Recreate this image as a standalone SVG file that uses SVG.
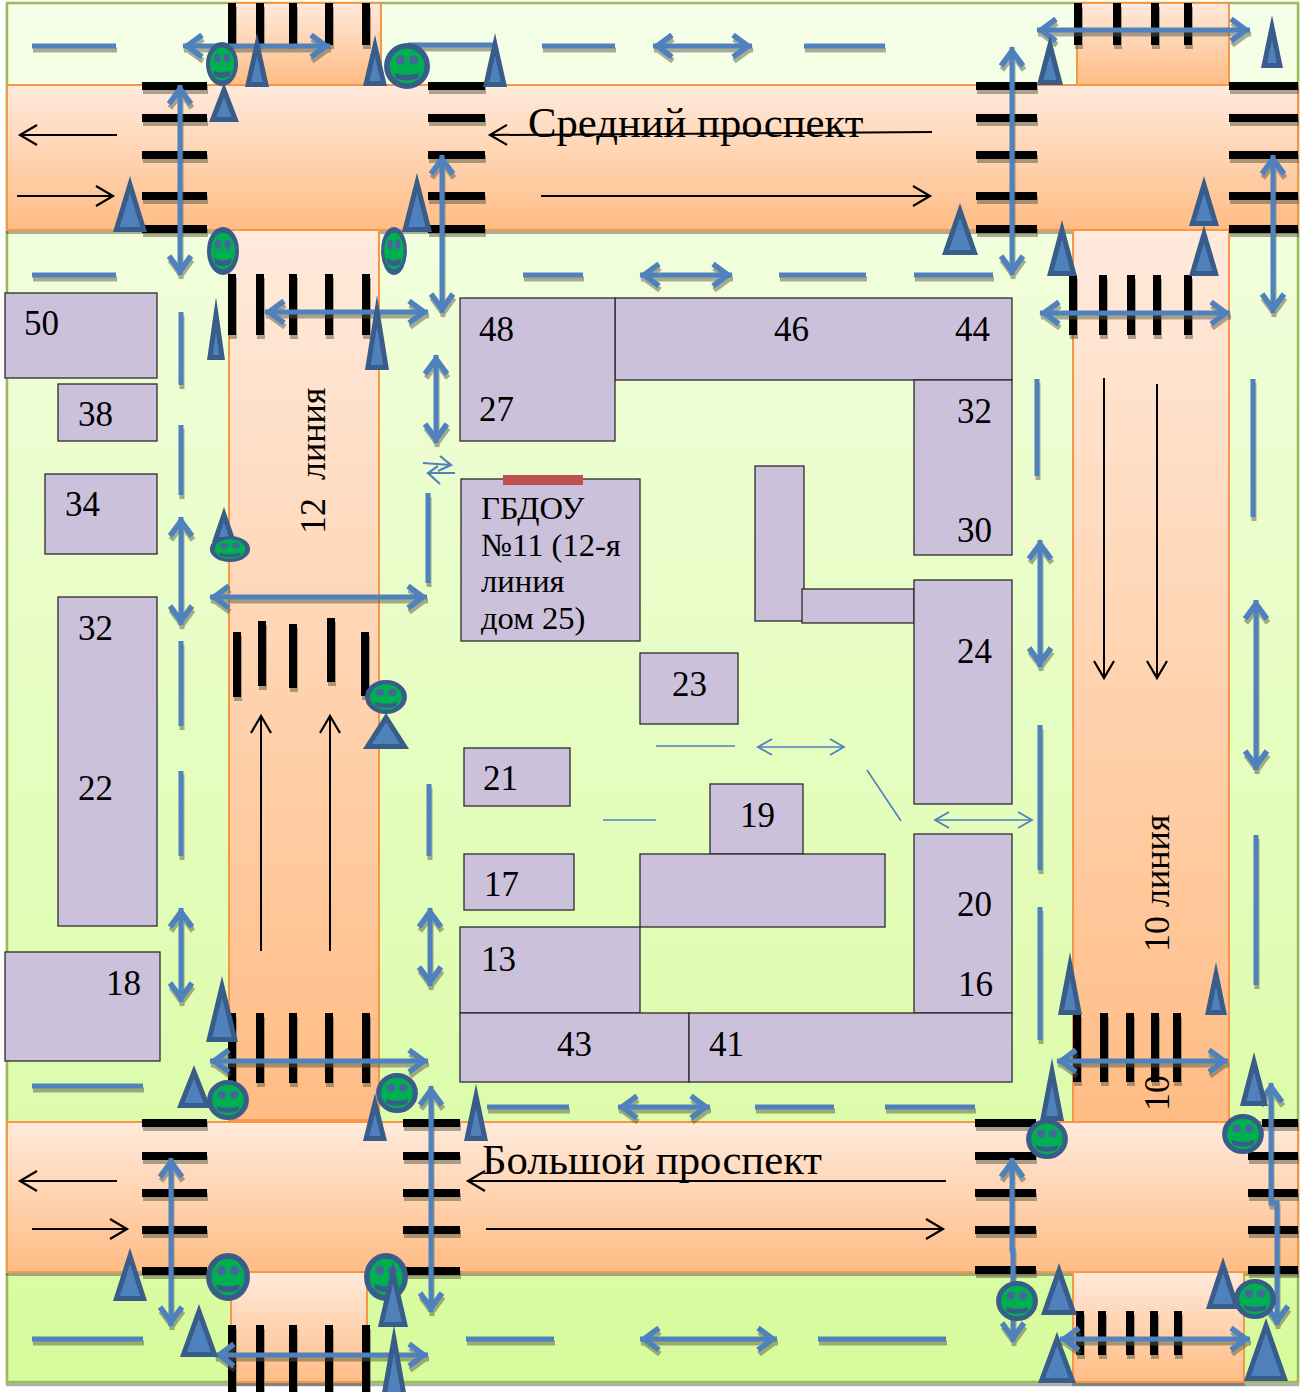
<svg xmlns="http://www.w3.org/2000/svg" width="1306" height="1392" viewBox="0 0 1306 1392">
<style>
.road{fill:url(#roadG);stroke:#f79646;stroke-width:2}
.bld{fill:#ccc1da;stroke:#2b2b2b;stroke-width:1.3}
.num{font-family:"Liberation Serif",serif;font-size:35px;fill:#000}
.ttl{font-family:"Liberation Serif",serif;font-size:42.7px;fill:#000}
.gb{font-family:"Liberation Serif",serif;font-size:32.6px;fill:#000}
.rot{font-family:"Liberation Serif",serif;font-size:36px;fill:#000}
.stripe{stroke:#000;stroke-width:8;fill:none}
.dbl{stroke:#4f81bd;stroke-width:5;fill:none;marker-start:url(#chev);marker-end:url(#chev)}
.dash{stroke:#4f81bd;stroke-width:5;fill:none}
.tn{stroke:#4f81bd;stroke-width:1.6;fill:none}
.tx{stroke:#4f81bd;stroke-width:2.2;fill:none}
.tnd{stroke:#4f81bd;stroke-width:1.6;fill:none;marker-start:url(#chevT);marker-end:url(#chevT)}
.blk{stroke:#000;stroke-width:2;fill:none;marker-end:url(#open)}
.tri polygon{fill:#4f81bd;stroke:#385d8a;stroke-width:5;stroke-miterlimit:20}
</style>
<defs>
<linearGradient id="bgG" x1="0" y1="0" x2="0" y2="1"><stop offset="0" stop-color="#f6ffe9"/><stop offset="1" stop-color="#d7fb9c"/></linearGradient>
<linearGradient id="roadG" x1="0" y1="0" x2="0" y2="1"><stop offset="0" stop-color="#ffeadc"/><stop offset="1" stop-color="#ffbc84"/></linearGradient>
<filter id="sh" x="-10%" y="-10%" width="120%" height="120%"><feDropShadow dx="1" dy="4" stdDeviation="0.6" flood-color="#5a5a3c" flood-opacity="0.5"/></filter>
<filter id="shr" x="-5%" y="-5%" width="110%" height="110%"><feDropShadow dx="0" dy="3" stdDeviation="0.5" flood-color="#4a4a4a" flood-opacity="0.45"/></filter>
<marker id="chev" markerUnits="userSpaceOnUse" markerWidth="34" markerHeight="34" refX="27" refY="17" orient="auto-start-reverse"><path d="M8 6 L23 17 L8 28" fill="none" stroke="#4f81bd" stroke-width="5.5"/></marker>
<marker id="chevT" markerUnits="userSpaceOnUse" markerWidth="24" markerHeight="24" refX="20" refY="12" orient="auto-start-reverse"><path d="M6 4 L20 12 L6 20" fill="none" stroke="#4f81bd" stroke-width="1.8"/></marker>
<marker id="open" markerUnits="userSpaceOnUse" markerWidth="30" markerHeight="30" refX="24" refY="15" orient="auto"><path d="M7 5 L24 15 L7 25" fill="none" stroke="#000" stroke-width="2.2"/></marker>
<g id="smile"><circle r="18" fill="#00b050" stroke="#385d8a" stroke-width="5"/><circle cx="-6" cy="-5.500" r="4.200" fill="#44689c"/><circle cx="6" cy="-5.500" r="4.200" fill="#44689c"/><path d="M-11 6 Q0 10 11 6 L10 11 Q0 15 -10 11Z" fill="#385d8a"/></g>
</defs>

<rect id="ground" x="7" y="3" width="1291" height="1379" fill="url(#bgG)" stroke="#9bbb59" stroke-width="2.500" filter="url(#shr)"/>

<g id="roads" filter="url(#shr)">
<rect class="road" x="230" y="3" width="151" height="82"/>
<rect class="road" x="1077" y="3" width="152" height="82"/>
<rect class="road" x="229" y="230" width="150" height="890"/>
<rect class="road" x="1073" y="228" width="156" height="897"/>
<rect class="road" x="231" y="1272" width="136" height="110"/>
<rect class="road" x="1073" y="1270" width="171" height="112"/>
<rect class="road" x="7" y="85" width="1291" height="145"/>
<rect class="road" x="7" y="1122" width="1291" height="150"/>
</g>

<g id="crossings" class="stripe" filter="url(#sh)">
<path d="M142 86H207M142 118H207M142 155H207M142 196H207M142 229H207"/>
<path d="M428 86H485M428 118H485M428 155H485M428 196H485M428 229H485"/>
<path d="M976 86H1037M976 118H1037M976 155H1037M976 196H1037M976 229H1037"/>
<path d="M1229 86H1298M1229 118H1298M1229 155H1298M1229 196H1298M1229 229H1298"/>
<path d="M142 1123H207M142 1156H207M142 1193H207M142 1230H207M142 1271H207"/>
<path d="M403 1123H460M403 1156H460M403 1193H460M403 1230H460M403 1271H460"/>
<path d="M975 1123H1036M975 1156H1036M975 1193H1036M975 1230H1036M975 1270H1036"/>
<path d="M1262 1123H1298M1248 1156H1298M1248 1193H1298M1248 1230H1298M1248 1270H1298"/>
<path d="M232 3V45M260 3V45M293 3V45M329 3V45M366 3V45"/>
<path d="M232 274V335M260 274V335M293 274V335M329 274V335M366 274V335"/>
<path d="M237 632V697M262 621V686M293 624V688M331 618V682M365 632V696"/>
<path d="M232 1013V1083M260 1013V1083M293 1013V1083M329 1013V1083M366 1013V1083"/>
<path d="M232 1325V1392M260 1325V1392M293 1325V1392M329 1325V1392M366 1325V1392"/>
<path d="M1078 3V45M1117 3V45M1155 3V45M1188 3V45"/>
<path d="M1073 275V335M1103 275V335M1131 275V335M1157 275V335M1188 275V335"/>
<path d="M1077 1013V1082M1104 1013V1082M1130 1013V1082M1155 1013V1082M1177 1013V1082"/>
<path d="M1080 1311V1355M1102 1311V1355M1130 1311V1355M1154 1311V1355M1178 1311V1355"/>
</g>

<g id="bld-50"><rect class="bld" x="5" y="293" width="152" height="85"/><text class="num" x="24" y="335">50</text></g>
<g id="bld-38"><rect class="bld" x="58" y="384" width="99" height="57"/><text class="num" x="78" y="426">38</text></g>
<g id="bld-34"><rect class="bld" x="45" y="474" width="112" height="80"/><text class="num" x="65" y="516">34</text></g>
<g id="bld-32-22"><rect class="bld" x="58" y="597" width="99" height="329"/><text class="num" x="78" y="640">32</text><text class="num" x="78" y="800">22</text></g>
<g id="bld-18"><rect class="bld" x="5" y="952" width="155" height="109"/><text class="num" x="106" y="995">18</text></g>
<g id="bld-46-44"><rect class="bld" x="615" y="298" width="397" height="82"/><text class="num" x="774" y="341">46</text><text class="num" x="955" y="341">44</text></g>
<g id="bld-48-27"><rect class="bld" x="460" y="298" width="155" height="143"/><text class="num" x="479" y="341">48</text><text class="num" x="479" y="421">27</text></g>
<g id="bld-32-30"><rect class="bld" x="914" y="380" width="98" height="175"/><text class="num" x="957" y="423">32</text><text class="num" x="957" y="542">30</text></g>
<g id="bld-gbdou"><rect class="bld" x="461" y="479" width="179" height="162"/><rect x="503" y="475" width="80" height="10" fill="#c0504d"/><text class="gb" x="481" y="519">ГБДОУ</text><text class="gb" x="481" y="556">№11 (12-я</text><text class="gb" x="481" y="592">линия</text><text class="gb" x="481" y="629">дом 25)</text></g>
<g id="bld-wing"><rect class="bld" x="755" y="466" width="49" height="155"/><rect class="bld" x="802" y="589" width="112" height="34"/></g>
<g id="bld-24"><rect class="bld" x="914" y="580" width="98" height="224"/><text class="num" x="957" y="663">24</text></g>
<g id="bld-23"><rect class="bld" x="640" y="653" width="98" height="71"/><text class="num" x="672" y="696">23</text></g>
<g id="bld-21"><rect class="bld" x="464" y="748" width="106" height="58"/><text class="num" x="483" y="790">21</text></g>
<g id="bld-19"><rect class="bld" x="710" y="784" width="93" height="70"/><text class="num" x="740" y="827">19</text></g>
<g id="bld-block"><rect class="bld" x="640" y="854" width="245" height="73"/></g>
<g id="bld-17"><rect class="bld" x="464" y="854" width="110" height="56"/><text class="num" x="484" y="896">17</text></g>
<g id="bld-13"><rect class="bld" x="460" y="927" width="180" height="86"/><text class="num" x="481" y="971">13</text></g>
<g id="bld-20-16"><rect class="bld" x="914" y="834" width="98" height="179"/><text class="num" x="957" y="916">20</text><text class="num" x="958" y="996">16</text></g>
<g id="bld-43"><rect class="bld" x="460" y="1013" width="229" height="69"/><text class="num" x="557" y="1056">43</text></g>
<g id="bld-41"><rect class="bld" x="689" y="1013" width="323" height="69"/><text class="num" x="709" y="1056">41</text></g>

<g id="labels">
<text class="ttl" x="528" y="137">Средний проспект</text>
<text class="ttl" x="482" y="1174">Большой проспект</text>
<text class="rot" transform="translate(325 534) rotate(-90)" xml:space="preserve">12  линия</text>
<text class="rot" transform="translate(1169 952) rotate(-90)">10 линия</text>
<text class="rot" transform="translate(1169 1111) rotate(-90)">10</text>
</g>

<g id="connectors">
<g id="traffic">
<path class="blk" d="M117 135H20"/><path class="blk" d="M17 196H113"/><path class="blk" d="M932 132L490 135"/><path class="blk" d="M541 196H930"/>
<path class="blk" d="M1104 378V678"/><path class="blk" d="M1157 384V678"/><path class="blk" d="M261 951V716"/><path class="blk" d="M330 951V716"/>
<path class="blk" d="M117 1181H20"/><path class="blk" d="M32 1229H127"/><path class="blk" d="M946 1181H468"/><path class="blk" d="M486 1229H943"/>
</g>
<g id="paths-dash" class="dash" filter="url(#sh)">
<path d="M32 46H116M408 45H495M542 46H615M804 46H885M32 275H116M523 275H583M779 275H866M914 275H993M32 1086H143M487 1107H569M755 1107H834M885 1107H975M32 1339H143M466 1339H554M818 1339H946"/>
<path d="M181 312V385M181 425V495M181 641V726M181 771V856M428 493V583M429 784V856M1037 379V476M1040 725V870M1040 907V1040M1253 379V517M1256 835V985"/>
</g>
<g id="paths-double" filter="url(#sh)">
<path class="dbl" d="M183 46H330"/><path class="dbl" d="M180 85V275"/><path class="dbl" d="M442 155V313"/><path class="dbl" d="M265 312H428"/>
<path class="dbl" d="M653 46H752"/><path class="dbl" d="M640 275H732"/><path class="dbl" d="M1037 30H1250"/><path class="dbl" d="M1012 47V275"/>
<path class="dbl" d="M1040 313H1230"/><path class="dbl" d="M1273 155V313"/><path class="dbl" d="M436 355V443"/><path class="dbl" d="M181 517V625"/>
<path class="dbl" d="M210 597H427"/><path class="dbl" d="M1040 540V667"/><path class="dbl" d="M1256 600V770"/><path class="dbl" d="M181 908V1002"/>
<path class="dbl" d="M430 908V986"/><path class="dbl" d="M210 1061H428"/><path class="dbl" d="M431 1086V1312"/><path class="dbl" d="M618 1107H710"/>
<path class="dbl" d="M1057 1061H1228"/><path class="dbl" d="M171 1158V1326"/><path class="dbl" d="M215 1355H428"/><path class="dbl" d="M640 1339H777"/>
<path class="dbl" d="M1060 1339H1250"/><path class="dbl" d="M1012 1158V1250H1013V1342"/><path class="dbl" d="M1271 1083V1203H1277V1325"/>
</g>
<g id="paths-thin">
<path class="tnd" d="M758 747H844"/><path class="tnd" d="M935 820H1032"/>
<path class="tn" d="M656 746H735M603 820H656M867 770L901 821"/>
<path class="tx" d="M423 463L451 465M440 456L451 465L438 471M455 473H428M438 466L428 473L440 484"/>
</g>
</g>

<g id="signs-under" class="tri">
<polygon points="257,44.5 265.900,84.5 248.100,84.5"/>
<polygon points="375,46 383.800,83.5 366.200,83.5"/>
<polygon points="495,44.5 503.900,84.500 486.100,84.500"/>
<polygon points="224,90 235.300,119.500 212.700,119.500"/>
<polygon points="417,183 428.800,229.500 405.200,229.500"/>
<polygon points="130,184.600 143.600,229.500 116.400,229.500"/>
<polygon points="216,314.700 222.100,357.500 209.900,357.500"/>
<polygon points="377,310.800 386.100,367.500 367.900,367.500"/>
<polygon points="1050,45 1059.800,82.500 1040.200,82.500"/>
<polygon points="1272,27.300 1279.900,65.500 1264.100,65.500"/>
<polygon points="960,210.600 974.500,252.500 945.500,252.500"/>
<polygon points="1062,229.700 1073.700,273.500 1050.300,273.500"/>
<polygon points="1204,184.700 1215.600,223.500 1192.400,223.500"/>
<polygon points="1204,233.900 1215.600,273.500 1192.400,273.500"/>
<polygon points="224,514.700 232.500,539.500 215.500,539.500"/>
<polygon points="386,717.600 404.500,746.500 367.500,746.500"/>
<polygon points="222,986.600 234.800,1039.500 209.200,1039.500"/>
<polygon points="194,1071.800 207.300,1105.500 180.700,1105.500"/>
<polygon points="476,1096 484.900,1138.500 467.100,1138.500"/>
<polygon points="199,1311.400 214.500,1354.500 183.500,1354.500"/>
<polygon points="130,1256 143.600,1298.500 116.400,1298.500"/>
<polygon points="1052,1071.400 1061,1118.500 1043,1118.500"/>
<polygon points="1254,1062 1264.800,1103.500 1243.200,1103.500"/>
<polygon points="1059,1270.600 1073.500,1312.500 1044.500,1312.500"/>
<polygon points="1223,1265 1236.600,1306.500 1209.400,1306.500"/>
<polygon points="1057,1339 1072.400,1380.500 1041.600,1380.500"/>
<polygon points="1266,1325.600 1284.500,1378.500 1247.500,1378.500"/>
<polygon points="1070,965.400 1079,1012.500 1061,1012.500"/>
<polygon points="1216,974.300 1223.900,1012.500 1208.100,1012.500"/>
</g>

<g id="smiley-1" transform="translate(222 64) scale(.78 1.07)"><use href="#smile"/></g>
<g id="smiley-2" transform="translate(407 66) scale(1.12)"><use href="#smile"/></g>
<g id="smiley-3" transform="translate(223 251) scale(.78 1.17)"><use href="#smile"/></g>
<g id="smiley-4" transform="translate(394 251) scale(.63 1.17)"><use href="#smile"/></g>
<g id="smiley-5" transform="translate(230 549) scale(.98 .63)"><use href="#smile"/></g>
<g id="smiley-6" transform="translate(386 697) scale(1.02 .83)"><use href="#smile"/></g>
<g id="smiley-7" transform="translate(228 1100) scale(1.02 .98)"><use href="#smile"/></g>
<g id="smiley-8" transform="translate(397 1093) scale(1.02 .98)"><use href="#smile"/></g>
<g id="smiley-9" transform="translate(228 1277) scale(1.07 1.17)"><use href="#smile"/></g>
<g id="smiley-10" transform="translate(386 1277) scale(1.07 1.17)"><use href="#smile"/></g>
<g id="smiley-11" transform="translate(1047 1139) scale(1.02 .98)"><use href="#smile"/></g>
<g id="smiley-12" transform="translate(1243 1134) scale(1.02 .98)"><use href="#smile"/></g>
<g id="smiley-13" transform="translate(1017 1301) scale(1.02 .98)"><use href="#smile"/></g>
<g id="smiley-14" transform="translate(1255 1299) scale(1.02 .98)"><use href="#smile"/></g>

<g id="signs-over" class="tri">
<polygon points="375,1103.300 383.800,1138.500 366.200,1138.500"/>
<polygon points="393,1273 404.900,1324.500 381.100,1324.500"/>
<polygon points="394,1339 404,1395.500 384,1395.500"/>
</g>
</svg>
